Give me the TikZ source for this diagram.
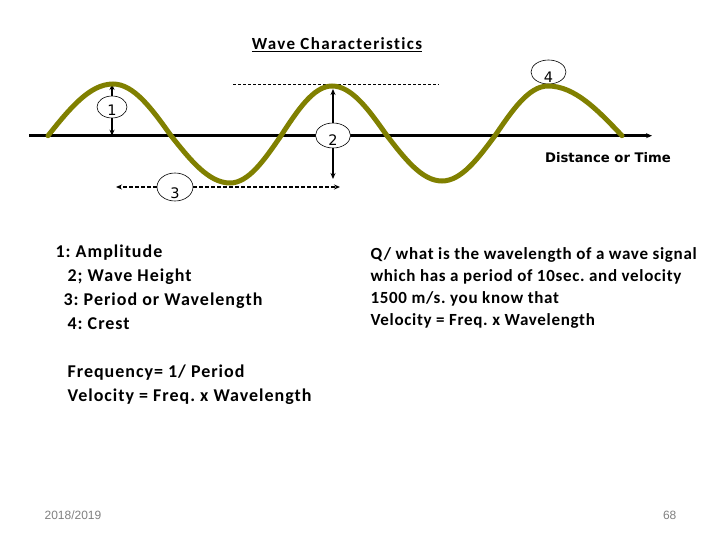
\documentclass[tikz,border=0pt]{standalone}
\usepackage{fontspec}
\setmainfont[Ligatures=NoCommon]{Carlito}
\newfontfamily\labelfont{DejaVu Sans}
\newfontfamily\footfont{Liberation Sans}
\usetikzlibrary{arrows.meta, shapes.geometric}
\frenchspacing

\begin{document}
\begin{tikzpicture}[x=1pt, y=-1pt, >={Stealth[length=6pt, width=5pt]}, line width=1.2pt,
  num/.style={ellipse, draw, line width=0.6pt, fill=white, inner sep=0pt, font=\labelfont\fontsize{14.5}{14.5}\selectfont},
  txt/.style={anchor=base west, inner sep=0pt, font=\bfseries\fontsize{18}{18}\selectfont\addfontfeature{LetterSpace=5.5}},
  qtxt/.style={anchor=base west, inner sep=0pt, font=\bfseries\fontsize{17}{17}\selectfont\addfontfeature{LetterSpace=4}}]
  \useasboundingbox (0,0) rectangle (720,540);
  % puntos de la onda (crestas, valles y cruces)
  \coordinate (O) at (29,135.7);    % inicio del eje
  \coordinate (X) at (652,135.7);   % punta del eje
  \coordinate (W0) at (48,135.7);
  \coordinate (C1) at (113,84);
  \coordinate (Z1) at (171,135.7);
  \coordinate (T1) at (230,183);
  \coordinate (Z2) at (281,135.7);
  \coordinate (C2) at (332,86);
  \coordinate (Z3) at (387,135.7);
  \coordinate (T2) at (442,181);
  \coordinate (Z4) at (495,135.7);
  \coordinate (C3) at (548,86);
  \coordinate (W1) at (622,135.7);
  % eje
  \draw[->, line width=2.4pt] (O) -- (X);
  % linea de referencia superior
  \draw[dashed, line width=0.6pt, dash pattern=on 3pt off 2pt] (233,84) -- (439,84);
  % marcas numeradas
  \node[num, minimum width=30pt, minimum height=22pt] (n1) at (112,107) {\raisebox{-9pt}[0pt][0pt]{1}};
  \node[num, minimum width=35pt, minimum height=25pt] (n2) at (333,135.5) {\raisebox{-10.5pt}[0pt][0pt]{2}};
  \node[num, minimum width=36pt, minimum height=28pt] (n3) at (175,187) {\raisebox{-12pt}[0pt][0pt]{3}};
  \node[num, minimum width=35pt, minimum height=24pt] (n4) at (548.5,72) {\raisebox{-11pt}[0pt][0pt]{4}};
  \coordinate (A1) at (112,135.7);
  \coordinate (H1) at (333,89);
  \coordinate (H2) at (333,179);
  \coordinate (L1) at (116,187);
  \coordinate (L2) at (340,187);
  \draw[->] (n1.north) -- (C1 -| n1.north);
  \draw[->] (n1.south) -- (A1);
  \draw[->] (n2.north) -- (H1);
  \draw[->] (n2.south) -- (H2);
  \draw[->, dashed, dash pattern=on 4pt off 2pt] (n3.west) -- (L1);
  \draw[->, dashed, dash pattern=on 4pt off 2pt] (n3.east) -- (L2);
  % onda
  \draw[line width=5pt, color={rgb,255:red,128;green,128;blue,0}, line cap=round]
    (W0) sin (C1) cos (Z1) sin (T1) cos (Z2) sin (C2) cos (Z3) sin (T2) cos (Z4) sin (C3) cos (W1);
  % textos
  \node[font=\bfseries\fontsize{17}{17}\selectfont\addfontfeature{LetterSpace=8}] (title) at (337,45) {\underline{Wave Characteristics}};
  \node[font=\labelfont\bfseries\fontsize{13.2}{13.2}\selectfont] (axis) at (608,158) {Distance or Time};
  \node[txt] (k1) at (55,257) {1: Amplitude};
  \node[txt] (k2) at (67,281) {2; Wave Height};
  \node[txt] (k3) at (63,305) {3: Period or Wavelength};
  \node[txt] (k4) at (67,329) {4: Crest};
  \node[txt] (f1) at (67,377) {Frequency= 1/ Period};
  \node[txt] (f2) at (67,401) {Velocity = Freq. x Wavelength};
  \node[qtxt] (q1) at (370,259) {Q/ what is the wavelength of a wave signal};
  \node[qtxt] (q2) at (370,281) {which has a period of 10sec. and velocity};
  \node[qtxt] (q3) at (370,303) {1500 m/s. you know that};
  \node[qtxt] (q4) at (370,325) {Velocity = Freq. x Wavelength};
  \node[anchor=base west, inner sep=0pt, text=black!50, font=\footfont\fontsize{12}{12}\selectfont] (year) at (44,519) {2018/2019};
  \node[anchor=base east, inner sep=0pt, text=black!50, font=\footfont\fontsize{12}{12}\selectfont] (page) at (677,519) {68};
\end{tikzpicture}
\end{document}
